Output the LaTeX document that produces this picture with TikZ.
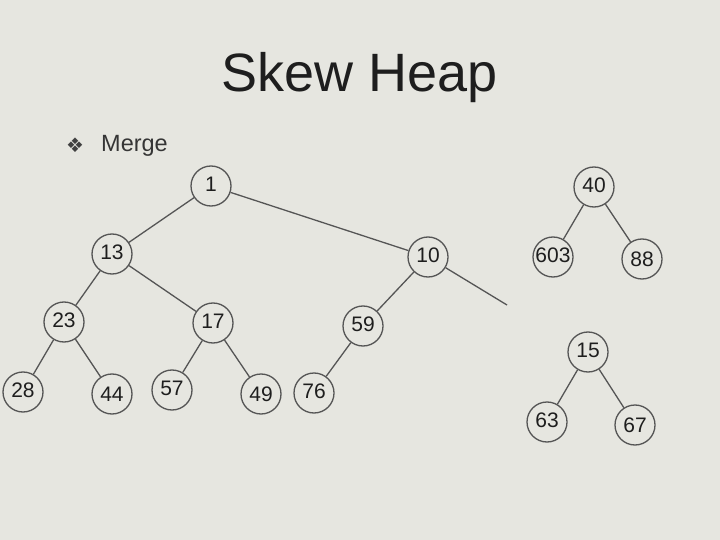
\documentclass[tikz,border=0pt]{standalone}
\usepackage{fontspec}
\setmainfont{Liberation Sans}
\newfontfamily\symfont{DejaVu Sans}
\definecolor{slidebg}{HTML}{E6E6E0}
\definecolor{ringgray}{HTML}{555555}
\definecolor{inkgray}{HTML}{1E1E1E}

\begin{document}
\begin{tikzpicture}[
    x=1pt, y=-1pt,
    key/.style={circle, draw=ringgray, line width=1.3pt, minimum size=40pt, inner sep=0pt, text=inkgray, font=\fontsize{21}{21}\selectfont},
    link/.style={draw=ringgray, line width=1.3pt},
]

\fill[slidebg] (0,0) rectangle (720,540);
\useasboundingbox (0,0) rectangle (720,540);

\node[anchor=base, text=inkgray, font=\fontsize{54}{54}\selectfont] (title) at (360,92) {Skew Heap};
\node[text=inkgray!85, font=\symfont\fontsize{20}{20}\selectfont] (bullet) at (75,145) {❖};
\node[anchor=base west, inner sep=0pt, text=inkgray!90, font=\fontsize{23.5}{23.5}\selectfont] (merge) at (101,152) {Merge};

% merged heap
\node[key] (n1) at (211,186) {\raisebox{3pt}{1}};
\node[key] (n13) at (112,254) {\raisebox{3pt}{13}};
\node[key] (n10) at (428,257) {\raisebox{3pt}{10}};
\node[key] (n23) at (64,322) {\raisebox{3pt}{23}};
\node[key] (n17) at (213,323) {\raisebox{3pt}{17}};
\node[key] (n59) at (363,326) {\raisebox{3pt}{59}};
\node[key] (n28) at (23,392) {\raisebox{3pt}{28}};
\node[key] (n44) at (112,394) {\raisebox{0pt}{44}};
\node[key] (n57) at (172,390) {\raisebox{3pt}{57}};
\node[key] (n49) at (261,394) {\raisebox{0pt}{49}};
\node[key] (n76) at (314,393) {\raisebox{3pt}{76}};
\coordinate (open) at (507,305);

% remaining heaps
\node[key] (n40) at (594,187) {\raisebox{3pt}{40}};
\node[key] (n603) at (553,257) {\raisebox{3pt}{603}};
\node[key] (n88) at (642,259) {\raisebox{0pt}{88}};
\node[key] (n15) at (588,352) {\raisebox{3pt}{15}};
\node[key] (n63) at (547,422) {\raisebox{3pt}{63}};
\node[key] (n67) at (635,425) {\raisebox{0pt}{67}};

\draw[link] (n1) -- (n13);
\draw[link] (n1) -- (n10);
\draw[link] (n13) -- (n23);
\draw[link] (n13) -- (n17);
\draw[link] (n23) -- (n28);
\draw[link] (n23) -- (n44);
\draw[link] (n17) -- (n57);
\draw[link] (n17) -- (n49);
\draw[link] (n10) -- (n59);
\draw[link] (n10) -- (open);
\draw[link] (n59) -- (n76);

\draw[link] (n40) -- (n603);
\draw[link] (n40) -- (n88);
\draw[link] (n15) -- (n63);
\draw[link] (n15) -- (n67);

\end{tikzpicture}
\end{document}
